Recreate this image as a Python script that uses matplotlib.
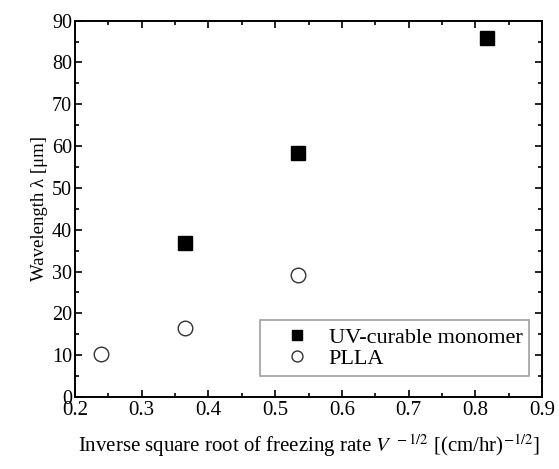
import numpy as np
import matplotlib
matplotlib.use("Agg")
import matplotlib.pyplot as plt
from matplotlib.ticker import MultipleLocator

plt.rcParams['font.family'] = ['Liberation Serif', 'DejaVu Serif']
plt.rcParams['mathtext.fontset'] = 'stix'

# data
uv_x = [0.365, 0.534, 0.817]
uv_y = [36.8, 58.4, 85.9]
plla_x = [0.239, 0.365, 0.534]
plla_y = [10.3, 16.4, 29.2]

fig = plt.figure(figsize=(5.59, 4.69), dpi=100)
ax = fig.add_axes([0.134, 0.1535, 0.836, 0.8025])

ax.plot(uv_x, uv_y, 's', color='black', ms=9.5, ls='none', label='UV-curable monomer')
ax.plot(plla_x, plla_y, 'o', mfc='white', mec='#333333', mew=1.0, ms=10.5, ls='none', label='PLLA')

ax.set_xlim(0.2, 0.9)
ax.set_ylim(0, 90)
ax.xaxis.set_major_locator(MultipleLocator(0.1))
ax.xaxis.set_minor_locator(MultipleLocator(0.05))
ax.yaxis.set_major_locator(MultipleLocator(10))
ax.yaxis.set_minor_locator(MultipleLocator(5))
ax.tick_params(which='both', direction='in', top=True, right=True)
ax.tick_params(axis='x', labelsize=15, pad=3)
ax.tick_params(axis='y', labelsize=14.5, pad=2)
ax.tick_params(which='major', length=5, width=1.2)
ax.tick_params(which='minor', length=3, width=1.2)
for s in ax.spines.values():
    s.set_linewidth(1.4)

ax.set_xlabel('Inverse square root of freezing rate $V^{\\ -1/2}$ [(cm/hr)$^{-1/2}$]', fontsize=15, labelpad=9)
ax.set_ylabel('Wavelength λ [μm]', fontsize=13.5, labelpad=3)

leg = ax.legend(loc='lower right', bbox_to_anchor=(0.972, 0.056), fontsize=16,
                frameon=True, fancybox=False, edgecolor='#888888', markerscale=0.75,
                handlelength=2.7, handletextpad=0.1, borderpad=0.3, labelspacing=0.05,
                borderaxespad=0)
leg.get_frame().set_linewidth(1.2)

fig.savefig('out.png', dpi=100)
